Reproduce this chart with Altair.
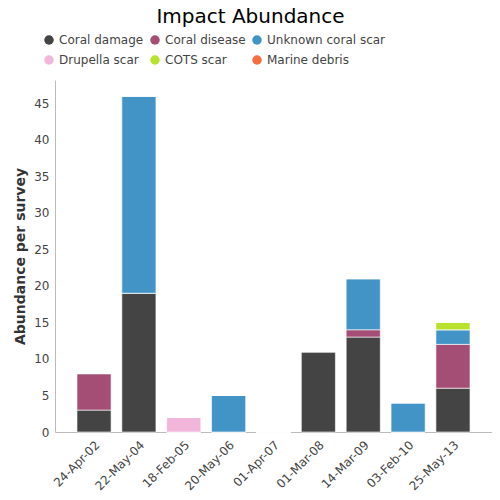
import altair as alt
import pandas as pd

dates = ["24-Apr-02", "22-May-04", "18-Feb-05", "20-May-06", "01-Apr-07",
         "01-Mar-08", "14-Mar-09", "03-Feb-10", "25-May-13"]
categories = ["Coral damage", "Coral disease", "Unknown coral scar",
              "Drupella scar", "COTS scar", "Marine debris"]
colors = ["#444444", "#a44e76", "#4394c6", "#f2b6da", "#b8e22e", "#f46d43"]

coral_damage = [3, 19, 0, 0, 0, 11, 13, 0, 6]
coral_disease = [5, 0, 0, 0, 0, 0, 1, 0, 6]
unknown_scar = [0, 27, 0, 5, 0, 0, 7, 4, 2]
drupella_scar = [0, 0, 2, 0, 0, 0, 0, 0, 0]
cots_scar = [0, 0, 0, 0, 0, 0, 0, 0, 1]
marine_debris = [0, 0, 0, 0, 0, 0, 0, 0, 0]

series = [coral_damage, coral_disease, unknown_scar, drupella_scar, cots_scar, marine_debris]
rows = []
for ci, (cat, vals) in enumerate(zip(categories, series)):
    for d, v in zip(dates, vals):
        rows.append({"date": d, "impact": cat, "value": v, "order": ci})
df = pd.DataFrame(rows)

font = "DejaVu Sans"

chart = alt.Chart(df).mark_bar(stroke="white", strokeOpacity=0.6, strokeWidth=1).encode(
    x=alt.X("date:N", sort=dates, title=None,
            scale=alt.Scale(paddingInner=0.24, paddingOuter=0.49),
            axis=alt.Axis(labelAngle=-45, ticks=False, domainColor="#bbbbbb",
                          labelColor="#444444", labelFontSize=12, labelFont=font,
                          labelPadding=7)),
    y=alt.Y("value:Q", stack="zero", title="Abundance per survey",
            scale=alt.Scale(domain=[0, 48.2], nice=False),
            axis=alt.Axis(values=[0, 5, 10, 15, 20, 25, 30, 35, 40, 45], grid=False,
                          ticks=False, domainColor="#bbbbbb", labelColor="#444444",
                          labelFontSize=12, labelFont=font, labelPadding=6,
                          titleFont=font, titleFontSize=14, titleFontWeight="bold",
                          titleColor="#333333", titlePadding=6)),
    color=alt.Color("impact:N", sort=categories,
                    scale=alt.Scale(domain=categories, range=colors),
                    legend=alt.Legend(orient="none", legendX=-12, legendY=-46,
                                      direction="horizontal", columns=3, gridAlign="none",
                                      title=None, symbolType="circle", symbolSize=90,
                                      symbolStrokeWidth=0, labelFontSize=12, labelFont=font,
                                      labelColor="#444444", columnPadding=5,
                                      rowPadding=8, labelOffset=4)),
    order=alt.Order("order:Q", sort="ascending"),
).properties(
    width=437, height=352,
    title=alt.TitleParams("Impact Abundance", font=font, fontSize=20, fontWeight="normal",
                          color="#000000", offset=7, dx=-23),
    autosize=alt.AutoSizeParams(type="none"),
    padding={"left": 47, "top": 72, "right": 0, "bottom": 60},
).configure_view(stroke=None)

chart.save("out.html", embed_options={"renderer": "svg", "actions": False})
